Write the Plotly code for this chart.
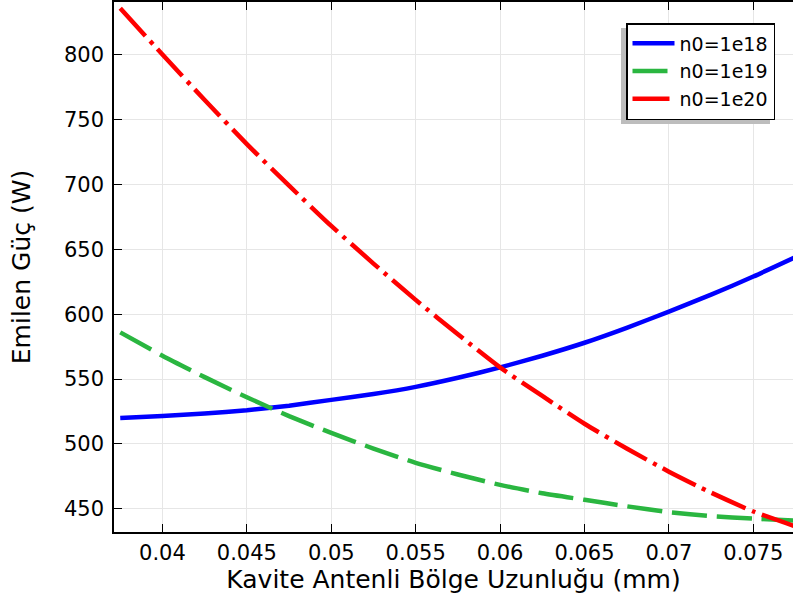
import plotly.graph_objects as go

x_mm = [0.0375, 0.04, 0.0425, 0.045, 0.0475, 0.05, 0.0525, 0.055, 0.0575,
        0.06, 0.0625, 0.065, 0.0675, 0.07, 0.0725, 0.075, 0.0775]
p_1e18 = [520, 521.5, 523.5, 526, 529.5, 534, 538.5, 544, 551,
          559, 568, 578, 589.5, 602, 615, 629, 644]
p_1e19 = [586, 568, 551.5, 536, 521.5, 508.5, 496.5, 485.5, 476.5,
          468.5, 462, 457, 452, 447.5, 444.5, 442.5, 441]
p_1e20 = [835.7, 800, 765, 731, 699, 668, 639, 611, 584.5,
          559, 537, 515.6, 496.5, 478.7, 462.5, 448, 436.5]

names = ["n0=1e18", "n0=1e19", "n0=1e20"]
series = [p_1e18, p_1e19, p_1e20]
colors = ["#0000ff", "#2ab640", "#ff0000"]
dashes = ["solid", "35px,10px", "37px,7px,4px,7px"]

x_ticks = [0.04, 0.045, 0.05, 0.055, 0.06, 0.065, 0.07, 0.075]
x_labels = ["0.04", "0.045", "0.05", "0.055", "0.06", "0.065", "0.07", "0.075"]
y_ticks = [450, 500, 550, 600, 650, 700, 750, 800]

FONT = "DejaVu Sans"

fig = go.Figure()
for n, s, c, d in zip(names, series, colors, dashes):
    fig.add_trace(go.Scatter(
        x=x_mm, y=s, mode="lines", name=n,
        line=dict(color=c, width=4.5, dash=d, shape="spline", smoothing=0.6),
    ))

W, H = 793, 598
L, R, T, B = 114, 0, 2, 66
pw, ph = W - L - R, H - T - B

def px(xp):
    return (xp - L) / pw

def py(yp):
    return 1 - (yp - T) / ph

LEG_LEFT, LEG_TOP = 626, 23

# legend shadow (offset left/down from the legend box)
fig.add_shape(type="rect", xref="paper", yref="paper",
              x0=px(LEG_LEFT - 5), x1=px(LEG_LEFT + 144),
              y0=py(LEG_TOP + 101), y1=py(LEG_TOP + 5),
              fillcolor="#bdbdbd", line=dict(width=0), layer="above")

axis_common = dict(
    showline=True, linecolor="black", linewidth=1.5,
    ticks="inside", ticklen=8, tickwidth=1.2, tickcolor="black",
    showgrid=True, gridcolor="#e6e6e6", gridwidth=1,
    zeroline=False, automargin=False,
    tickfont=dict(family=FONT, size=21, color="black"),
)

fig.update_layout(
    width=W, height=H,
    margin=dict(l=L, r=R, t=T, b=B),
    plot_bgcolor="white", paper_bgcolor="white",
    font=dict(family=FONT, color="black"),
    xaxis=dict(
        range=[0.03713, 0.07735], tickvals=x_ticks, ticktext=x_labels,
        mirror="ticks", ticklabelstandoff=1,
        title=dict(text="Kavite Antenli Bölge Uzunluğu (mm)",
                   font=dict(family=FONT, size=25), standoff=0),
        **axis_common,
    ),
    yaxis=dict(
        range=[432.2, 840.5], tickvals=y_ticks,
        mirror=False, ticklabelstandoff=4,
        title=dict(text="Emilen Güç (W)",
                   font=dict(family=FONT, size=25), standoff=26),
        **axis_common,
    ),
    legend=dict(
        x=px(LEG_LEFT), y=py(LEG_TOP), xanchor="left", yanchor="top",
        bgcolor="white", bordercolor="black", borderwidth=1.5,
        font=dict(family=FONT, size=19, color="black"),
        itemwidth=42,
    ),
    showlegend=True,
)

fig.write_html("out.html",
               config={"displayModeBar": False},
               post_script="document.body.style.margin='0px';document.body.style.overflow='hidden';")
